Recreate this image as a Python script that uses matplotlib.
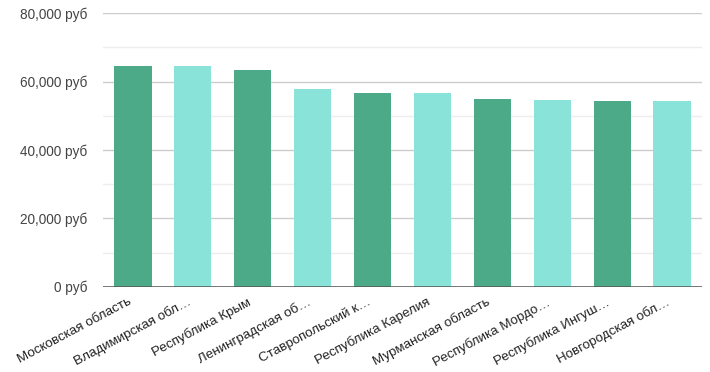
import matplotlib
matplotlib.use("Agg")
import matplotlib.pyplot as plt
from matplotlib.ticker import FuncFormatter, MultipleLocator

plt.rcParams['font.family'] = ['Liberation Sans', 'DejaVu Sans']

categories = ["Московская область", "Владимирская обл…", "Республика Крым",
              "Ленинградская об…", "Ставропольский к…", "Республика Карелия",
              "Мурманская область", "Республика Мордо…", "Республика Ингуш…",
              "Новгородская обл…"]
values = [64600, 64550, 63400, 57900, 56600, 56600, 55000, 54700, 54400, 54300]
yticks = [0, 20000, 40000, 60000, 80000]

dark = "#4caa88"
light = "#89e3d8"
colors = [dark if i % 2 == 0 else light for i in range(len(values))]

fig = plt.figure(figsize=(7.1, 3.72), dpi=100)
ax = fig.add_axes([103/710, 1-286.7/372, (702-103)/710, (286.7-13.1)/372])

x = list(range(len(categories)))
ax.bar(x, values, width=0.62, color=colors, zorder=3)

ax.set_xlim(-0.5, len(categories)-0.5)
ax.set_ylim(0, 80000)
ax.set_yticks(yticks)
ax.yaxis.set_minor_locator(MultipleLocator(10000))
ax.yaxis.set_major_formatter(FuncFormatter(lambda v, p: f"{int(v):,} руб"))
ax.grid(axis='y', which='major', color='#cccccc', linewidth=1, zorder=0)
ax.grid(axis='y', which='minor', color='#ededed', linewidth=1, zorder=0)
ax.axhline(0, color='#555555', linewidth=1.1, zorder=4)

for s in ax.spines.values():
    s.set_visible(False)

ax.set_xticks(x)
ax.set_xticklabels(categories, rotation=28, ha='right', va='top',
                   fontsize=9.6, color='#222222')
ax.tick_params(axis='x', length=0, pad=6.5)
ax.tick_params(axis='y', which='both', length=0, pad=11, labelsize=9.8,
               labelcolor='#444444')

fig.savefig("out.png", dpi=100)
